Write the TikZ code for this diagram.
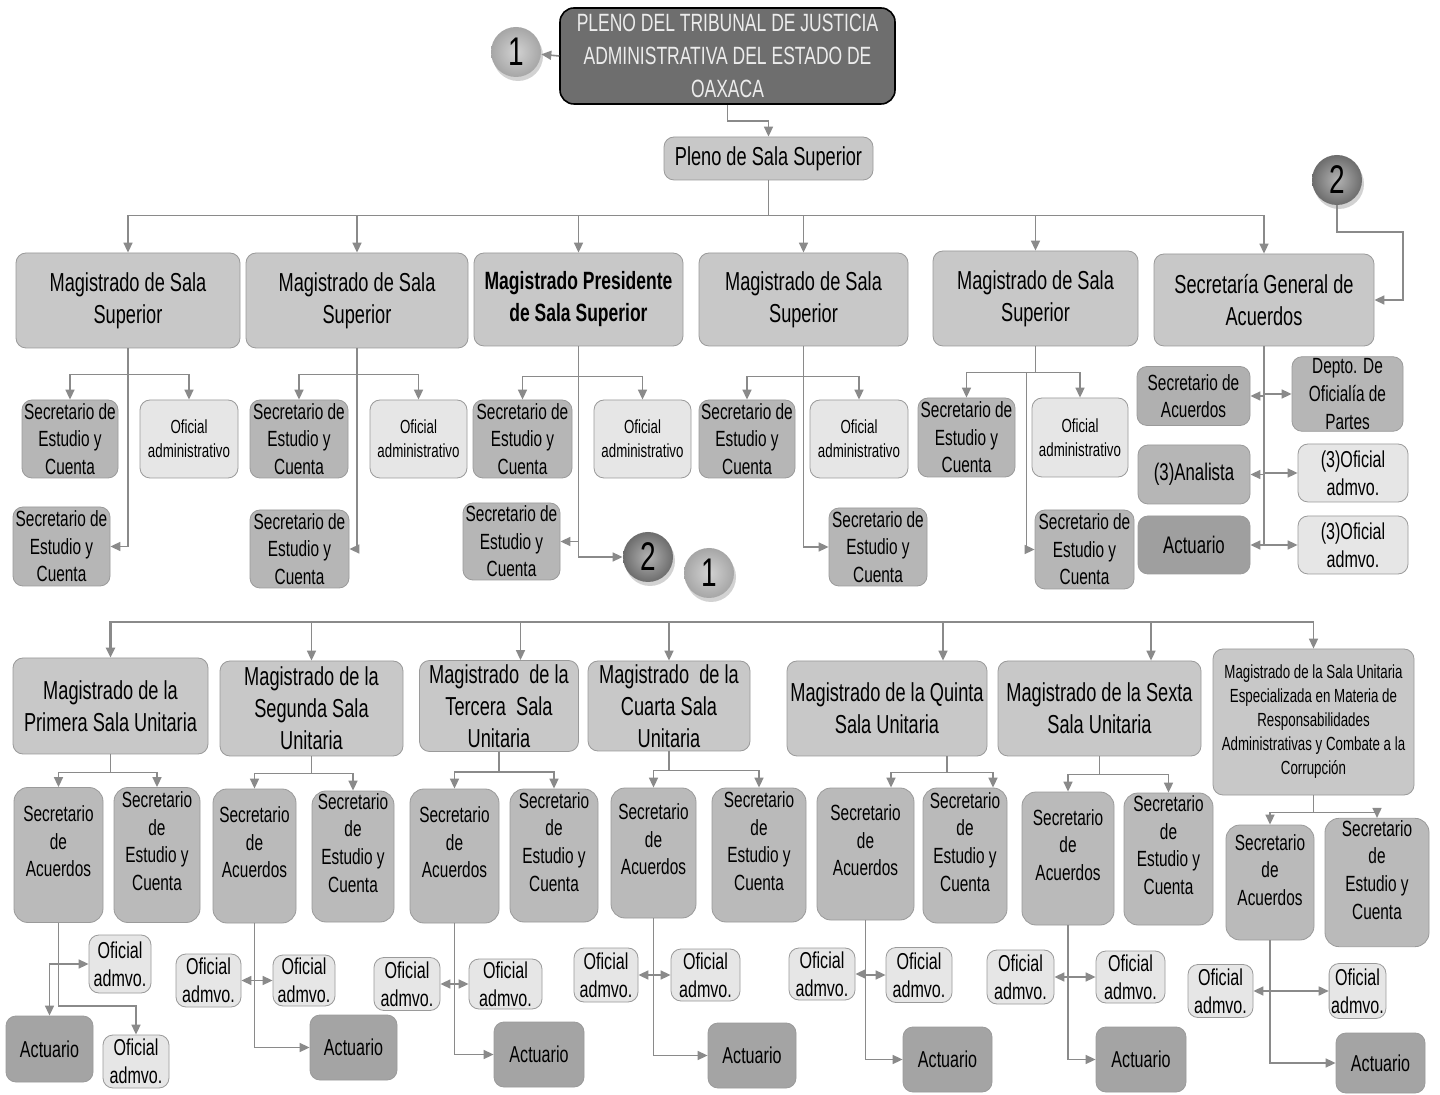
\documentclass[tikz,border=0pt]{standalone}
\usepackage{fontspec}
\setmainfont{Liberation Sans}[FakeStretch=0.70]
\usetikzlibrary{arrows.meta}
\usetikzlibrary{shadows}
\definecolor{lingray}{HTML}{8A8A8A}
\definecolor{bordgray}{HTML}{9A9A9A}
\definecolor{maggray}{HTML}{C8C8C8}
\definecolor{secgray}{HTML}{B6B6B6}
\definecolor{ofigray}{HTML}{E6E6E6}
\definecolor{actgray}{HTML}{A4A4A4}
\definecolor{topgray}{HTML}{6E6E6E}
\tikzset{
box/.style={ % Sets the properties for each box
draw=bordgray,
rounded corners=5pt,
align=center,
inner sep=1pt},
sz/.style 2 args={minimum width=#1*0.5pt, minimum height=#2*0.5pt}, % Size in pixels
top/.style={box, draw=black, thick, rounded corners=7pt, fill=topgray, text=gray!15,
font=\fontsize{12.5}{16.5}\selectfont},
mag/.style={box, fill=maggray, font=\fontsize{13}{16}\selectfont},
sec/.style={box, fill=secgray, font=\fontsize{11}{13.8}\selectfont},
secb/.style={sec, rounded corners=7pt, fill=secgray!95!white},
ofi/.style={box, fill=ofigray, font=\fontsize{11.5}{14}\selectfont},
act/.style={box, fill=actgray, font=\fontsize{11.5}{14}\selectfont},
num/.style={ % Sets the properties for the round connectors
circle,
minimum size=25pt,
inner sep=0pt,
inner color=gray!35,
outer color=gray!70,
drop shadow={opacity=0.35, shadow xshift=1pt, shadow yshift=-2pt},
font=\fontsize{20}{24}\selectfont},
numdark/.style={num, inner color=gray!60, outer color=gray!85!black},
arr/.style={ % Sets the properties for each connector
draw=lingray,
line width=0.8pt,
-{Triangle[length=5pt,width=4.5pt]}}}

\begin{document}
\begin{tikzpicture}[x=0.5pt,y=-0.5pt]
	\fill[white] (0,0) rectangle (1440,1095);
	\useasboundingbox (0,0) rectangle (1440,1095);
	\node[top, sz={335}{96}] (pleno) at (727.5,56) {PLENO DEL TRIBUNAL DE JUSTICIA\\ADMINISTRATIVA DEL ESTADO DE\\OAXACA};
	\node[num] (c1a) at (516,52) {1};
	\node[mag, sz={209}{43}] (pss) at (768.5,158.5) {Pleno de Sala Superior};
	\node[numdark] (c2a) at (1337,180) {2};
	\coordinate (k2) at (1403,232);
	\node[mag, sz={224}{95}] (m1) at (128,300.5) {Magistrado de Sala\\Superior};
	\node[mag, sz={222}{95}] (m2) at (357,300.5) {Magistrado de Sala\\Superior};
	\node[mag, sz={209}{93}, font=\fontsize{12.5}{16}\selectfont\bfseries] (mp) at (578.5,299.5) {Magistrado Presidente\\de Sala Superior};
	\node[mag, sz={209}{93}] (m4) at (803.5,299.5) {Magistrado de Sala\\Superior};
	\node[mag, sz={205}{95}] (m5) at (1035.5,298.5) {Magistrado de Sala\\Superior};
	\node[mag, sz={220}{92}] (sga) at (1264,300) {Secretaría General de\\Acuerdos};
	\node[sec, sz={96}{78}] (s1a) at (70,439) {Secretario de\\Estudio y\\Cuenta};
	\node[ofi, sz={98}{78}, font=\fontsize{9.5}{12}\selectfont] (o1) at (189,439) {Oficial\\administrativo};
	\node[sec, sz={97}{79}] (s1b) at (61.5,546.5) {Secretario de\\Estudio y\\Cuenta};
	\node[sec, sz={98}{78}] (s2a) at (299,439) {Secretario de\\Estudio y\\Cuenta};
	\node[ofi, sz={97}{78}, font=\fontsize{9.5}{12}\selectfont] (o2) at (418.5,439) {Oficial\\administrativo};
	\node[sec, sz={99}{78}] (s2b) at (299.5,549) {Secretario de\\Estudio y\\Cuenta};
	\node[sec, sz={99}{78}] (s3a) at (522.5,439) {Secretario de\\Estudio y\\Cuenta};
	\node[ofi, sz={97}{78}, font=\fontsize{9.5}{12}\selectfont] (o3) at (642.5,439) {Oficial\\administrativo};
	\node[sec, sz={97}{77}] (s3b) at (511.5,541.5) {Secretario de\\Estudio y\\Cuenta};
	\node[numdark] (c2b) at (648,557) {2};
	\node[num] (c1b) at (709,573) {1};
	\node[sec, sz={96}{78}] (s4a) at (747,439) {Secretario de\\Estudio y\\Cuenta};
	\node[ofi, sz={98}{78}, font=\fontsize{9.5}{12}\selectfont] (o4) at (859,439) {Oficial\\administrativo};
	\node[sec, sz={98}{78}] (s4b) at (878,547) {Secretario de\\Estudio y\\Cuenta};
	\node[sec, sz={97}{79}] (s5a) at (966.5,437.5) {Secretario de\\Estudio y\\Cuenta};
	\node[ofi, sz={96}{79}, font=\fontsize{9.5}{12}\selectfont] (o5) at (1080,437.5) {Oficial\\administrativo};
	\node[sec, sz={99}{79}] (s5b) at (1084.5,549.5) {Secretario de\\Estudio y\\Cuenta};
	\node[sec, sz={113}{59}, fill=gray!62] (sda) at (1193.5,396) {Secretario de\\Acuerdos};
	\node[sec, sz={111}{69}] (dop) at (1347.5,394) {Depto. De\\Oficialía de\\Partes};
	\node[sec, sz={112}{59}, font=\fontsize{12}{14}\selectfont] (ana) at (1194,474.5) {(3)Analista};
	\node[ofi, sz={110}{58}] (o3a) at (1353,473) {(3)Oficial\\admvo.};
	\node[act, sz={112}{58}, fill=gray!75, font=\fontsize{12}{14}\selectfont] (act0) at (1194,545) {Actuario};
	\node[ofi, sz={110}{58}] (o3b) at (1353,545) {(3)Oficial\\admvo.};
	\coordinate (r2) at (740,622);
	\node[mag, sz={195}{96}] (u1) at (110.5,706) {Magistrado de la\\Primera Sala Unitaria};
	\node[mag, sz={183}{95}] (u2) at (311.5,708.5) {Magistrado de la\\Segunda Sala\\Unitaria};
	\node[mag, sz={159}{91}] (u3) at (499,706) {Magistrado\ \ de la\\Tercera\ \ Sala\\Unitaria};
	\node[mag, sz={162}{90}] (u4) at (669,706) {Magistrado\ \ de la\\Cuarta Sala\\Unitaria};
	\node[mag, sz={200}{95}] (u5) at (887,708.5) {Magistrado de la Quinta\\Sala Unitaria};
	\node[mag, sz={203}{95}] (u6) at (1099.5,708.5) {Magistrado de la Sexta\\Sala Unitaria};
	\node[mag, sz={201}{146}, font=\fontsize{9.5}{12}\selectfont] (u7) at (1313.5,722) {Magistrado de la Sala Unitaria\\Especializada en Materia de\\Responsabilidades\\Administrativas y Combate a la\\Corrupción};
	\node[secb, sz={89}{135}] (sa1) at (58.5,855) {Secretario\\de\\Acuerdos\\[0pt]};
	\node[secb, sz={86}{135}] (se1) at (157,855) {Secretario\\de\\Estudio y\\Cuenta\\[0pt]};
	\node[secb, sz={83}{134}] (sa2) at (254.5,856) {Secretario\\de\\Acuerdos\\[0pt]};
	\node[secb, sz={82}{131}] (se2) at (353,856.5) {Secretario\\de\\Estudio y\\Cuenta\\[0pt]};
	\node[secb, sz={89}{134}] (sa3) at (454.5,856) {Secretario\\de\\Acuerdos\\[0pt]};
	\node[secb, sz={88}{133}] (se3) at (554,855.5) {Secretario\\de\\Estudio y\\Cuenta\\[0pt]};
	\node[secb, sz={85}{130}] (sa4) at (653.5,853) {Secretario\\de\\Acuerdos\\[0pt]};
	\node[secb, sz={94}{134}] (se4) at (759,855) {Secretario\\de\\Estudio y\\Cuenta\\[0pt]};
	\node[secb, sz={97}{132}] (sa5) at (865.5,854) {Secretario\\de\\Acuerdos\\[0pt]};
	\node[secb, sz={84}{135}] (se5) at (965,855.5) {Secretario\\de\\Estudio y\\Cuenta\\[0pt]};
	\node[secb, sz={92}{133}] (sa6) at (1068,858.5) {Secretario\\de\\Acuerdos\\[0pt]};
	\node[secb, sz={89}{132}] (se6) at (1168.5,859) {Secretario\\de\\Estudio y\\Cuenta\\[0pt]};
	\node[secb, sz={88}{115}] (sa7) at (1270,882.5) {Secretario\\de\\Acuerdos\\[-1pt]};
	\node[secb, sz={104}{115}] (se7) at (1377,882.5) {Secretario\\de\\Estudio y\\Cuenta\\[-1pt]};
	\node[ofi, sz={62}{58}] (oa1) at (120,964) {Oficial\\admvo.};
	\node[ofi, sz={66}{53}] (ob1) at (136,1061.5) {Oficial\\admvo.};
	\node[act, sz={87}{66}] (ac1) at (49.5,1049) {Actuario};
	\node[ofi, sz={65}{53}] (ol2) at (208.5,980.5) {Oficial\\admvo.};
	\node[ofi, sz={62}{51}] (or2) at (304,980.5) {Oficial\\admvo.};
	\node[act, sz={87}{65}] (ac2) at (353.5,1047.5) {Actuario};
	\node[ofi, sz={66}{53}] (ol3) at (407,984) {Oficial\\admvo.};
	\node[ofi, sz={73}{50}] (or3) at (505.5,984) {Oficial\\admvo.};
	\node[act, sz={90}{65}] (ac3) at (539,1054.5) {Actuario};
	\node[ofi, sz={64}{54}] (ol4) at (606,975) {Oficial\\admvo.};
	\node[ofi, sz={69}{52}] (or4) at (705.5,975) {Oficial\\admvo.};
	\node[act, sz={88}{65}] (ac4) at (752,1055.5) {Actuario};
	\node[ofi, sz={66}{52}] (ol5) at (822,974) {Oficial\\admvo.};
	\node[ofi, sz={66}{55}] (or5) at (919,975) {Oficial\\admvo.};
	\node[act, sz={89}{65}] (ac5) at (947.5,1059.5) {Actuario};
	\node[ofi, sz={67}{54}] (ol6) at (1020.5,977) {Oficial\\admvo.};
	\node[ofi, sz={69}{52}] (or6) at (1130.5,977) {Oficial\\admvo.};
	\node[act, sz={90}{65}] (ac6) at (1141,1059.5) {Actuario};
	\node[ofi, sz={65}{53}] (ol7) at (1220.5,991) {Oficial\\admvo.};
	\node[ofi, sz={55}{55}] (or7) at (1357.5,991) {Oficial\\admvo.};
	\node[act, sz={89}{60}] (ac7) at (1380.5,1063) {Actuario};
	\draw[arr] (pleno.west) -- (c1a);
	\draw[arr] (pleno.south) -- ++(0,16) -| (pss.north);
	\draw[arr] (pss.south) -- ++(0,35) -| (m1.north);
	\draw[arr] (pss.south) -- ++(0,35) -| (m2.north);
	\draw[arr] (pss.south) -- ++(0,35) -| (mp.north);
	\draw[arr] (pss.south) -- ++(0,35) -| (m4.north);
	\draw[arr] (pss.south) -- ++(0,35) -| (m5.north);
	\draw[arr] (pss.south) -- ++(0,35) -| (sga.north);
	\draw[arr] (c2a.south) |- (k2) |- (sga.east);
	\draw[arr] (m1.south) -- ++(0,26) -| (s1a.north);
	\draw[arr] (m1.south) -- ++(0,26) -| (o1.north);
	\draw[arr] (m1.south) |- (s1b.east);
	\draw[arr] (m2.south) -- ++(0,26) -| (s2a.north);
	\draw[arr] (m2.south) -- ++(0,26) -| (o2.north);
	\draw[arr] (m2.south) |- (s2b.east);
	\draw[arr] (mp.south) -- ++(0,30) -| (s3a.north);
	\draw[arr] (mp.south) -- ++(0,30) -| (o3.north);
	\draw[arr] (mp.south) |- (s3b.east);
	\draw[arr] (mp.south) |- (c2b.west);
	\draw[arr] (m4.south) -- ++(0,30) -| (s4a.north);
	\draw[arr] (m4.south) -- ++(0,30) -| (o4.north);
	\draw[arr] (m4.south) |- (s4b.west);
	\draw[arr] (m5.south) -- ++(0,26) -| (s5a.north);
	\draw[arr] (m5.south) -- ++(0,26) -| (o5.north);
	\draw[arr] (m5.south) -- ++(0,26) -- ++(-9,0) |- (s5b.west);
	\draw[arr] (sga.south) |- (sda.east);
	\draw[arr] (sga.south) |- (dop.west);
	\draw[arr] (sga.south) |- (ana.east);
	\draw[arr] (sga.south) |- (o3a.west);
	\draw[arr] (sga.south) |- (act0.east);
	\draw[arr] (sga.south) |- (o3b.west);
	\draw[arr, line width=1.3pt] (r2) -| (u1.north);
	\draw[arr] (r2) -| (u2.north);
	\draw[arr] (r2) -| ([xshift=10.75pt]u3.north);
	\draw[arr] (r2) -| (u4.north);
	\draw[arr] (r2) -| ([xshift=28pt]u5.north);
	\draw[arr] (r2) -| ([xshift=25.75pt]u6.north);
	\draw[arr] (r2) -| (u7.north);
	\draw[arr] (u1.south) -- ++(0,18) -| (sa1.north);
	\draw[arr] (u1.south) -- ++(0,18) -| (se1.north);
	\draw[arr] (u2.south) -- ++(0,17) -| (sa2.north);
	\draw[arr] (u2.south) -- ++(0,17) -| (se2.north);
	\draw[arr] (u3.south) -- ++(0,20) -| (sa3.north);
	\draw[arr] (u3.south) -- ++(0,20) -| (se3.north);
	\draw[arr] (u4.south) -- ++(0,19) -| (sa4.north);
	\draw[arr] (u4.south) -- ++(0,19) -| (se4.north);
	\draw[arr] ([xshift=30pt]u5.south) -- ++(0,16) -| ([xshift=12.75pt]sa5.north);
	\draw[arr] ([xshift=30pt]u5.south) -- ++(0,16) -| ([xshift=14pt]se5.north);
	\draw[arr] (u6.south) -- ++(0,18) -| (sa6.north);
	\draw[arr] (u6.south) -- ++(0,18) -| (se6.north);
	\draw[arr] (u7.south) -- ++(0,17) -| (sa7.north);
	\draw[arr] (u7.south) -- ++(0,17) -| (se7.north);
	\draw[arr] (sa1.south) -- ++(0,83) -| (ob1.north);
	\draw[arr] (sa1.south |- oa1.west) -- (oa1.west);
	\draw[arr] (sa1.south |- oa1.west) -| (ac1.north);
	\draw[arr] (sa2.south) |- (ac2.west);
	\draw[arr] (sa2.south |- ol2.east) -- (ol2.east);
	\draw[arr] (sa2.south |- or2.west) -- (or2.west);
	\draw[arr] (sa3.south) |- (ac3.west);
	\draw[arr] (sa3.south |- ol3.east) -- (ol3.east);
	\draw[arr] (sa3.south |- or3.west) -- (or3.west);
	\draw[arr] (sa4.south) |- (ac4.west);
	\draw[arr] (sa4.south |- ol4.east) -- (ol4.east);
	\draw[arr] (sa4.south |- or4.west) -- (or4.west);
	\draw[arr] (sa5.south) |- (ac5.west);
	\draw[arr] (sa5.south |- ol5.east) -- (ol5.east);
	\draw[arr] (sa5.south |- or5.west) -- (or5.west);
	\draw[arr] (sa6.south) |- (ac6.west);
	\draw[arr] (sa6.south |- ol6.east) -- (ol6.east);
	\draw[arr] (sa6.south |- or6.west) -- (or6.west);
	\draw[arr] (sa7.south) |- (ac7.west);
	\draw[arr] (sa7.south |- ol7.east) -- (ol7.east);
	\draw[arr] (sa7.south |- or7.west) -- (or7.west);
\end{tikzpicture}
\end{document}
